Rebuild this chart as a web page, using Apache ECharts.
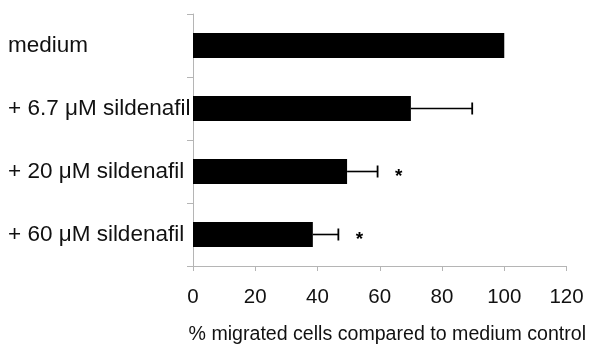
<!DOCTYPE html>
<html><head><meta charset="utf-8">
<script src="https://cdn.jsdelivr.net/npm/echarts@6/dist/echarts.min.js"></script>
<style>html,body{margin:0;padding:0;background:#fff}#c{width:589px;height:352px}</style>
</head><body><div id="c"></div>
<script>
const categories = ["medium", "+ 6.7 μM sildenafil", "+ 20 μM sildenafil", "+ 60 μM sildenafil"];
const values = [100, 70, 49.5, 38.5];
const errors = [0, 19.7, 9.8, 8.2];
const significance = ["", "", "*", "*"];
const xTicks = [0, 20, 40, 60, 80, 100, 120];
const xTitle = "% migrated cells compared to medium control";

const font = "Liberation Sans, Arial, sans-serif";
const chart = echarts.init(document.getElementById('c'), null, {renderer: 'canvas'});
const errData = categories.map((c, i) => [values[i], i, values[i] + errors[i], significance[i]]);
chart.setOption({
  animation: false,
  grid: {left: 193, right: 21, top: 14, bottom: 86},
  xAxis: {
    type: 'value', min: xTicks[0], max: xTicks[xTicks.length - 1], interval: 20,
    axisLine: {show: true, lineStyle: {color: '#b5b5b5', width: 1}},
    axisTick: {show: true, length: 5, lineStyle: {color: '#b5b5b5'}},
    splitLine: {show: false},
    axisLabel: {fontFamily: font, fontSize: 20.5, color: '#111', margin: 21},
    name: xTitle, nameLocation: 'middle', nameGap: 59,
    nameTextStyle: {fontFamily: font, fontSize: 19.6, color: '#111', padding: [0, 0, 0, 15]}
  },
  yAxis: {
    type: 'category', data: categories, inverse: true,
    axisLine: {show: true, lineStyle: {color: '#b5b5b5', width: 1}},
    axisTick: {show: true, length: 6, lineStyle: {color: '#b5b5b5'}},
    axisLabel: {fontFamily: font, fontSize: 22.5, color: '#111', align: 'left', margin: 185}
  },
  series: [
    {type: 'bar', data: values, barWidth: 25, itemStyle: {color: '#000'}},
    {
      type: 'custom', data: errData, encode: {x: [0, 2], y: 1}, z: 3,
      renderItem: function (params, api) {
        const v = api.value(0), cat = api.value(1), e = api.value(2), sig = significance[params.dataIndex];
        const p0 = api.coord([v, cat]);
        const p1 = api.coord([e, cat]);
        const children = [];
        if (e > v) {
          children.push({type: 'line', shape: {x1: p0[0], y1: p0[1], x2: p1[0], y2: p1[1]}, style: {stroke: '#000', lineWidth: 1.6}});
          children.push({type: 'line', shape: {x1: p1[0], y1: p1[1] - 6, x2: p1[0], y2: p1[1] + 6}, style: {stroke: '#000', lineWidth: 1.8}});
        }
        if (sig) {
          children.push({type: 'text', style: {text: sig, x: p1[0] + 21, y: p1[1] + 5, align: 'center', verticalAlign: 'middle', fontSize: 19, fontWeight: 'bold', fontFamily: font, fill: '#000'}});
        }
        return {type: 'group', children: children};
      }
    }
  ]
});
</script></body></html>
